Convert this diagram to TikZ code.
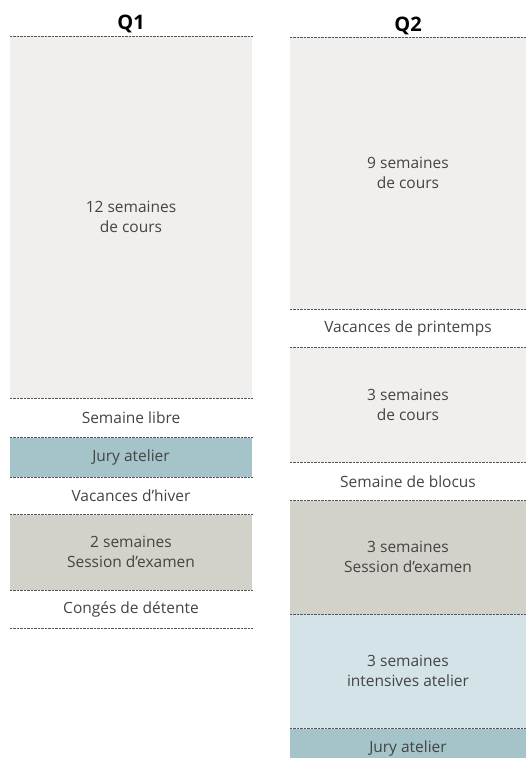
\documentclass[tikz,border=0pt]{standalone}
\usepackage{fontspec}
\setmainfont{Open Sans}
\usetikzlibrary{positioning}

\definecolor{cours}{HTML}{F0EFED}
\definecolor{jury}{HTML}{A4C4CA}
\definecolor{examen}{HTML}{D2D1CA}
\definecolor{intensif}{HTML}{D4E3E7}
\definecolor{texte}{HTML}{444444}
\definecolor{trait}{HTML}{555555}

\begin{document}
\begin{tikzpicture}[
		x=1pt, y=-1pt,
		node distance=0pt,
		bloc/.style={inner sep=0pt, align=center, text=texte, font=\fontsize{15.5}{20}\selectfont},
		qun/.style={bloc, minimum width=242pt},
		qdeux/.style={bloc, minimum width=236pt},
		titre/.style={anchor=base, font=\fontsize{20}{24}\selectfont\bfseries},
		sep/.style={draw=trait, line width=0.7pt, dash pattern=on 0.7pt off 0.7pt}
	]
	\useasboundingbox (0,0) rectangle (526,758);

		% Q1
		\node[titre] (q1) at (131,29) {Q1};
		\node[qun, fill=cours, minimum height=362pt, anchor=north] (cours1) at (131,36) {12 semaines\\de cours};
		\node[qun, minimum height=39pt, below=of cours1] (libre) {Semaine libre};
		\node[qun, fill=jury, minimum height=39pt, below=of libre] (jury1) {Jury atelier};
		\node[qun, minimum height=37pt, below=of jury1] (hiver) {Vacances d’hiver};
		\node[qun, fill=examen, minimum height=75pt, below=of hiver] (examen1) {2 semaines\\Session d’examen};
		\node[qun, minimum height=38pt, below=of examen1] (detente) {Congés de détente};

		% Q2
		\node[titre] (q2) at (408,31) {Q2};
		\node[qdeux, fill=cours, minimum height=272pt, anchor=north] (cours2) at (408,37) {9 semaines\\de cours};
		\node[qdeux, minimum height=38pt, below=of cours2] (printemps) {Vacances de printemps};
		\node[qdeux, fill=cours, minimum height=114pt, below=of printemps] (cours3) {3 semaines\\de cours};
		\node[qdeux, minimum height=38pt, below=of cours3] (blocus) {Semaine de blocus};
		\node[qdeux, fill=examen, minimum height=113pt, below=of blocus] (examen2) {3 semaines\\Session d’examen};
		\node[qdeux, fill=intensif, minimum height=114pt, below=of examen2] (intensif) {3 semaines\\intensives atelier};
		\node[qdeux, fill=jury, minimum height=39pt, below=of intensif] (jury2) {Jury atelier};

		% Lines
		\foreach \n in {cours1, libre, jury1, hiver, examen1, detente, cours2, printemps, cours3, blocus, examen2, intensif, jury2}
			\draw[sep] (\n.north west) -- (\n.north east);
		\draw[sep] (detente.south west) -- (detente.south east);

	\end{tikzpicture}
\end{document}
